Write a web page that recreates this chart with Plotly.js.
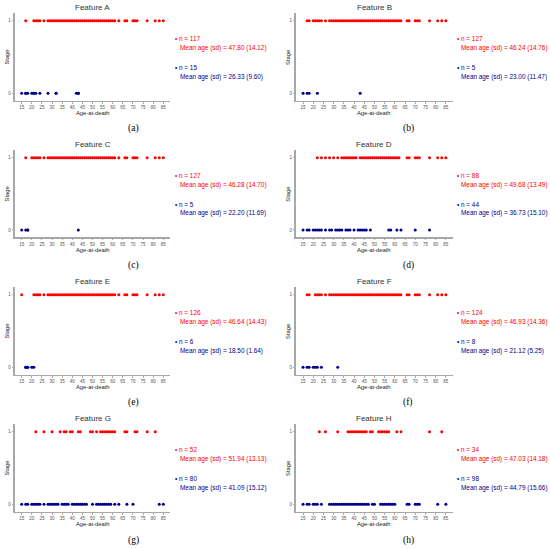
<!DOCTYPE html>
<html><head><meta charset="utf-8">
<script src="https://cdn.plot.ly/plotly-3.0.1.min.js"></script>
<style>html,body{margin:0;padding:0;background:#fff}#chart{width:550px;height:549px}</style>
</head><body><div id="chart"></div>
<script>
const featureNames = ["Feature A","Feature B","Feature C","Feature D","Feature E","Feature F","Feature G","Feature H"];
const panelLabels = ["(a)","(b)","(c)","(d)","(e)","(f)","(g)","(h)"];
const xTickVals = [15,20,25,30,35,40,45,50,55,60,65,70,75,80,85];
const yTickVals = [0,1];

const stage1A = [17,21,22,23,24,26,28,29,30,31,32,33,34,35,36,37,38,39,40,41,42,43,44,45,46,47,48,49,50,51,52,53,54,55,56,57,58,59,60,61,63,66,67,70,71,72,77,81,83,85];
const stage0A = [15,17,17,18,20,21,21,22,24,28,32,32,42,43,43];
const stage1B = [17,18,20,21,22,23,24,26,28,29,30,31,32,33,34,35,36,37,38,39,40,41,42,43,44,45,46,47,48,49,50,51,52,53,54,55,56,57,58,59,60,61,62,63,66,67,70,71,72,77,81,83,85];
const stage0B = [15,17,18,22,43];
const stage1C = [17,20,21,22,23,24,26,28,29,30,31,32,33,34,35,36,37,38,39,40,41,42,43,44,45,46,47,48,49,50,51,52,53,54,55,56,57,58,59,60,61,63,66,67,70,71,72,77,81,83,85];
const stage0C = [15,17,18,18,43];
const stage1D = [22,24,26,28,30,32,34,35,36,37,38,39,40,41,43,44,45,46,47,48,49,50,51,52,53,54,55,56,57,58,59,60,61,62,66,67,70,71,72,77,81,83,85];
const stage0D = [15,17,18,20,21,22,23,24,26,28,29,31,32,33,34,36,37,38,40,42,43,44,45,46,48,57,58,61,63,70,77];
const stage1E = [15,21,22,23,24,26,28,29,30,31,32,33,34,35,36,37,38,39,40,41,42,43,44,45,46,47,48,49,50,51,52,53,54,55,56,57,58,59,60,61,63,66,67,70,71,72,77,81,83,85];
const stage0E = [17,17,18,18,20,21];
const stage1F = [17,18,21,22,23,24,26,28,29,30,31,32,33,34,35,36,37,38,39,40,41,42,43,44,45,46,47,48,49,50,51,52,53,54,55,56,57,58,59,60,61,62,63,66,67,70,71,72,77,81,83,85];
const stage0F = [15,17,18,20,21,22,24,32];
const stage1G = [22,26,30,34,36,37,39,40,43,44,49,50,52,54,55,56,57,58,59,60,61,66,67,71,72,77,81];
const stage0G = [15,17,18,20,21,22,23,24,26,28,29,30,31,32,33,35,36,37,38,40,41,42,43,44,45,46,47,50,52,53,54,55,56,57,58,59,61,63,67,70,83,85];
const stage1H = [23,26,32,37,38,39,40,41,42,43,44,45,46,48,49,52,53,54,55,56,57,61,63,77,83];
const stage0H = [15,17,18,20,21,22,24,28,29,30,31,32,33,34,35,36,37,38,39,40,41,42,43,44,45,46,47,49,50,53,54,55,56,57,58,59,60,66,67,70,71,72,81,85];

const nStage1 = [117,127,127,88,126,124,52,34];
const meanStage1 = ["47.80 (14.12)","46.24 (14.76)","46.28 (14.70)","49.68 (13.49)","46.64 (14.43)","46.93 (14.36)","51.94 (13.13)","47.03 (14.18)"];
const nStage0 = [15,5,5,44,6,8,80,98];
const meanStage0 = ["26.33 (9.60)","23.00 (11.47)","22.20 (11.69)","36.73 (15.10)","18.50 (1.64)","21.12 (5.25)","41.09 (15.12)","44.79 (15.66)"];

const stage1 = [stage1A,stage1B,stage1C,stage1D,stage1E,stage1F,stage1G,stage1H];
const stage0 = [stage0A,stage0B,stage0C,stage0D,stage0E,stage0F,stage0G,stage0H];

const W = 550, H = 549;
const RED = "#ff0000", BLUE = "#00008b";
const FONT = "Liberation Sans, Arial, sans-serif";
const cols = [{x0:14.6,x1:170.4,ann:173,annM:178,lab:133},{x0:295.9,x1:453,ann:455,annM:459,lab:408}];
const rows = [{t:13.4,b:100.6,lab:128},{t:150.4,b:237.2,lab:265},{t:287.4,b:374.6,lab:402},{t:424.4,b:511.6,lab:540}];

const traces = [];
const annotations = [];
const layout = {
  width: W, height: H, margin:{l:0,r:0,t:0,b:0},
  paper_bgcolor:"#fff", plot_bgcolor:"#fff", showlegend:false,
  font:{family:FONT, color:"#333"}
};

for (let i = 0; i < 8; i++) {
  const c = cols[i % 2], r = rows[Math.floor(i / 2)];
  const sfx = i === 0 ? "" : String(i + 1);
  const xa = "x" + sfx, ya = "y" + sfx;
  traces.push({type:"scatter", mode:"markers", x:stage1[i], y:stage1[i].map(() => 1), xaxis:xa, yaxis:ya,
    marker:{color:RED, size:3, symbol:"circle"}, hoverinfo:"x"});
  traces.push({type:"scatter", mode:"markers", x:stage0[i], y:stage0[i].map(() => 0), xaxis:xa, yaxis:ya,
    marker:{color:BLUE, size:3, symbol:"circle"}, hoverinfo:"x"});
  layout["xaxis" + sfx] = {domain:[c.x0 / W, c.x1 / W], range:[11.5, 88.5], anchor:ya,
    tickvals:xTickVals, ticktext:xTickVals.map(String), showgrid:false, zeroline:false,
    showline:true, linecolor:"#a8a8a8", linewidth:1.5, ticks:"outside", ticklen:1.5, tickcolor:"#a8a8a8",
    tickfont:{size:4.5, color:"#555", family:FONT}, fixedrange:true};
  layout["yaxis" + sfx] = {domain:[1 - r.b / H, 1 - r.t / H], range:[-0.1, 1.1], anchor:xa,
    tickvals:yTickVals, ticktext:yTickVals.map(String), showgrid:false, zeroline:false,
    showline:true, linecolor:"#a8a8a8", linewidth:1.5, ticks:"outside", ticklen:1.5, tickcolor:"#a8a8a8",
    tickfont:{size:4.5, color:"#555", family:FONT}, fixedrange:true};
  const cx = (c.x0 + c.x1) / 2;
  annotations.push({text:featureNames[i], xref:"paper", yref:"paper", x:cx / W, y:1 - (r.t - 6.3) / H,
    xanchor:"center", yanchor:"middle", showarrow:false, font:{size:8, color:"#333", family:FONT}});
  annotations.push({text:"Age-at-death", xref:"paper", yref:"paper", x:cx / W, y:1 - (r.b + 12.5) / H,
    xanchor:"center", yanchor:"middle", showarrow:false, font:{size:5.8, color:"#222", family:FONT}});
  annotations.push({text:"Stage", xref:"paper", yref:"paper", x:(c.x0 - 8) / W, y:1 - ((r.t + r.b) / 2) / H,
    xanchor:"center", yanchor:"middle", textangle:-90, showarrow:false, font:{size:5.8, color:"#222", family:FONT}});
  annotations.push({text:panelLabels[i], xref:"paper", yref:"paper", x:c.lab / W, y:1 - r.lab / H,
    xanchor:"center", yanchor:"middle", showarrow:false, font:{size:9.5, color:"#000", family:"Liberation Serif, Times New Roman, serif"}});
  annotations.push({text:"• n = " + nStage1[i], xref:"paper", yref:ya, x:c.ann / W, y:0.758,
    xanchor:"left", yanchor:"middle", showarrow:false, font:{size:6.4, color:RED, family:FONT}});
  annotations.push({text:"Mean age (sd) = " + meanStage1[i], xref:"paper", yref:ya, x:c.annM / W, y:0.62,
    xanchor:"left", yanchor:"middle", showarrow:false, font:{size:6.4, color:RED, family:FONT}});
  annotations.push({text:"• n = " + nStage0[i], xref:"paper", yref:ya, x:c.ann / W, y:0.358,
    xanchor:"left", yanchor:"middle", showarrow:false, font:{size:6.4, color:BLUE, family:FONT}});
  annotations.push({text:"Mean age (sd) = " + meanStage0[i], xref:"paper", yref:ya, x:c.annM / W, y:0.229,
    xanchor:"left", yanchor:"middle", showarrow:false, font:{size:6.4, color:BLUE, family:FONT}});
}
layout.annotations = annotations;
Plotly.newPlot("chart", traces, layout, {staticPlot:true, displayModeBar:false});
</script></body></html>
